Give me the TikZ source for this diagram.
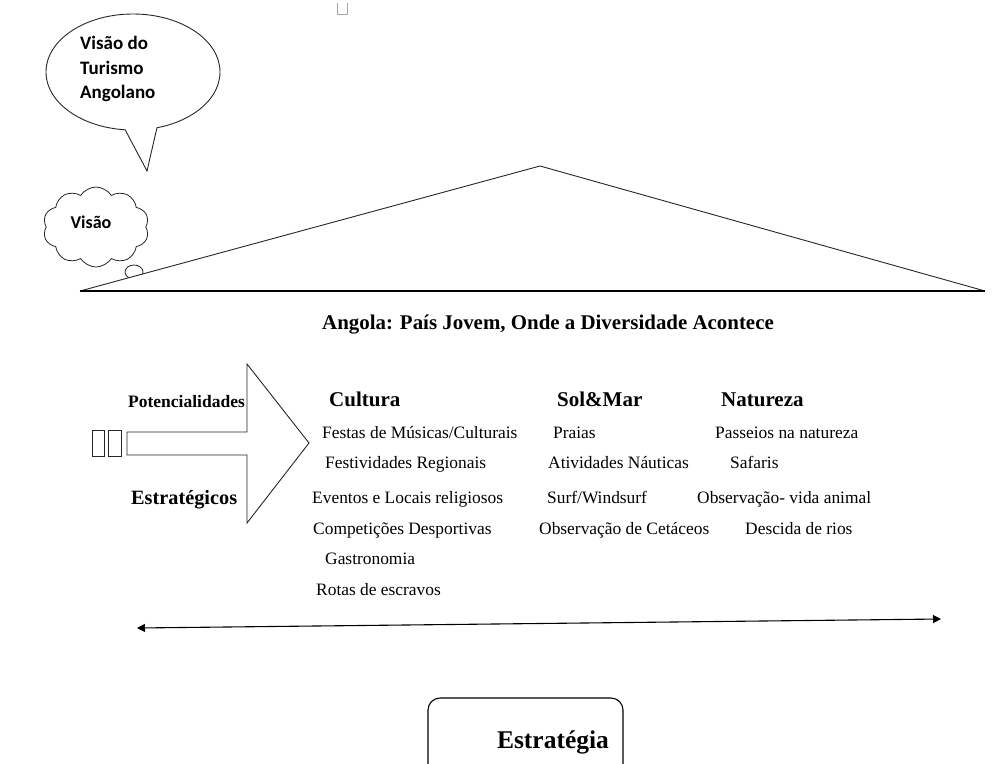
\documentclass[tikz,border=0pt]{standalone}
\usepackage{fontspec}
\setmainfont{Liberation Serif}
\newfontfamily\calfont{Carlito}
\usetikzlibrary{shapes.symbols,arrows.meta}
\begin{document}
\begin{tikzpicture}[x=1pt,y=-1pt,
  body/.style={anchor=west,inner sep=0pt,text height=12.5pt,text depth=4pt,font=\fontsize{17.4}{20}\selectfont},
  head/.style={anchor=west,inner sep=0pt,text height=14.5pt,text depth=5pt,font=\fontsize{21}{24}\selectfont\bfseries},
  shape line/.style={draw=black!85,line width=0.9pt}]
\useasboundingbox (0,0) rectangle (992,763);
\begin{scope}
\clip (0,0) rectangle (992,763);
% small gray mark at top
\draw[black!35,line width=0.8pt] (337,3) -- (337,14) -- (347,14) -- (347,3);
% speech bubble
\draw[shape line] (133,72) ellipse [x radius=87pt, y radius=58pt];
\fill[white] (124,118) -- (158,118) -- (157,128) -- (147,170) -- (125,130) -- cycle;
\draw[shape line] (125,129.5) -- (147,171) coordinate (tip) -- (157,127.5);
\node[inner sep=0pt,align=left,anchor=north west,font=\calfont\bfseries\fontsize{19}{24.5}\selectfont] (bubbletext) at (80,36) {Visão do\\Turismo\\Angolano};
% cloud
\node[cloud,draw=black!85,line width=0.8pt,cloud puffs=10,cloud puff arc=115,aspect=1.35,minimum width=106pt,minimum height=80pt,inner sep=0pt] (cloud) at (96,227) {};
\node[inner sep=0pt,font=\calfont\bfseries\fontsize{18}{20}\selectfont] (visao) at (91,222) {Visão};
\draw[shape line,line width=0.8pt,fill=white] (134,272) ellipse [x radius=9pt, y radius=7pt];
% triangle
\coordinate (tl) at (80,291);
\coordinate (tt) at (540,166);
\coordinate (tr) at (985,291);
\fill[white] (tl) -- (tt) -- (tr) -- cycle;
\draw[shape line] (tl) -- (tt) -- (tr);
\draw[black,line width=1.3pt] (tl) -- (tr);
% headline
\node[anchor=west,inner sep=0pt,font=\fontsize{20.9}{24}\selectfont\bfseries] (headline) at (322,325) {Angola: País Jovem, Onde a Diversidade Acontece};
% big arrow
\draw[shape line] (127,432) -- (247,432) -- (247,364) -- (309,443) -- (247,523) -- (247,455) -- (127,455) -- cycle;
\draw[shape line,line width=0.8pt] (92,430) rectangle (104,456);
\draw[shape line,line width=0.8pt] (108,430) rectangle (121,456);
\node[anchor=west,inner sep=0pt,text height=12.5pt,text depth=4pt,font=\fontsize{17.5}{20}\selectfont\bfseries] (pot) at (128,403) {Potencialidades};
\node[anchor=west,inner sep=0pt,text height=14pt,text depth=5pt,font=\fontsize{20.3}{24}\selectfont\bfseries] (est) at (131,500) {Estratégicos};
% headers
\node[head] (cult) at (329,402) {Cultura};
\node[head] (sol) at (557,402) {Sol\&Mar};
\node[head] (nat) at (721,402) {Natureza};
% Cultura items
\node[body] (c1) at (322,434) {Festas de Músicas/Culturais};
\node[body] (c2) at (325,464) {Festividades Regionais};
\node[body] (c3) at (312,499) {Eventos e Locais religiosos};
\node[body] (c4) at (313,530) {Competições Desportivas};
\node[body] (c5) at (325,560) {Gastronomia};
\node[body] (c6) at (316,591) {Rotas de escravos};
% Sol&Mar items
\node[body] (s1) at (553,434) {Praias};
\node[body] (s2) at (548,464) {Atividades Náuticas};
\node[body] (s3) at (547,499) {Surf/Windsurf};
\node[body] (s4) at (539,530) {Observação de Cetáceos};
% Natureza items
\node[body] (n1) at (715,434) {Passeios na natureza};
\node[body] (n2) at (730,464) {Safaris};
\node[body] (n3) at (697,499) {Observação- vida animal};
\node[body] (n4) at (745,530) {Descida de rios};
% double arrow
\coordinate (la) at (137,628);
\coordinate (ra) at (941,619);
\draw[black,line width=1.1pt,{Triangle[length=8pt,width=8pt]}-{Triangle[length=8pt,width=8pt]}] (la) -- (ra);
% strategy box
\draw[black,line width=1.1pt,rounded corners=12pt] (428,780) -- (428,698) -- (623,698) -- (623,780);
\node[inner sep=0pt,font=\fontsize{25.5}{30}\selectfont\bfseries] (estrategia) at (553,742) {Estratégia};
\end{scope}
\end{tikzpicture}
\end{document}
